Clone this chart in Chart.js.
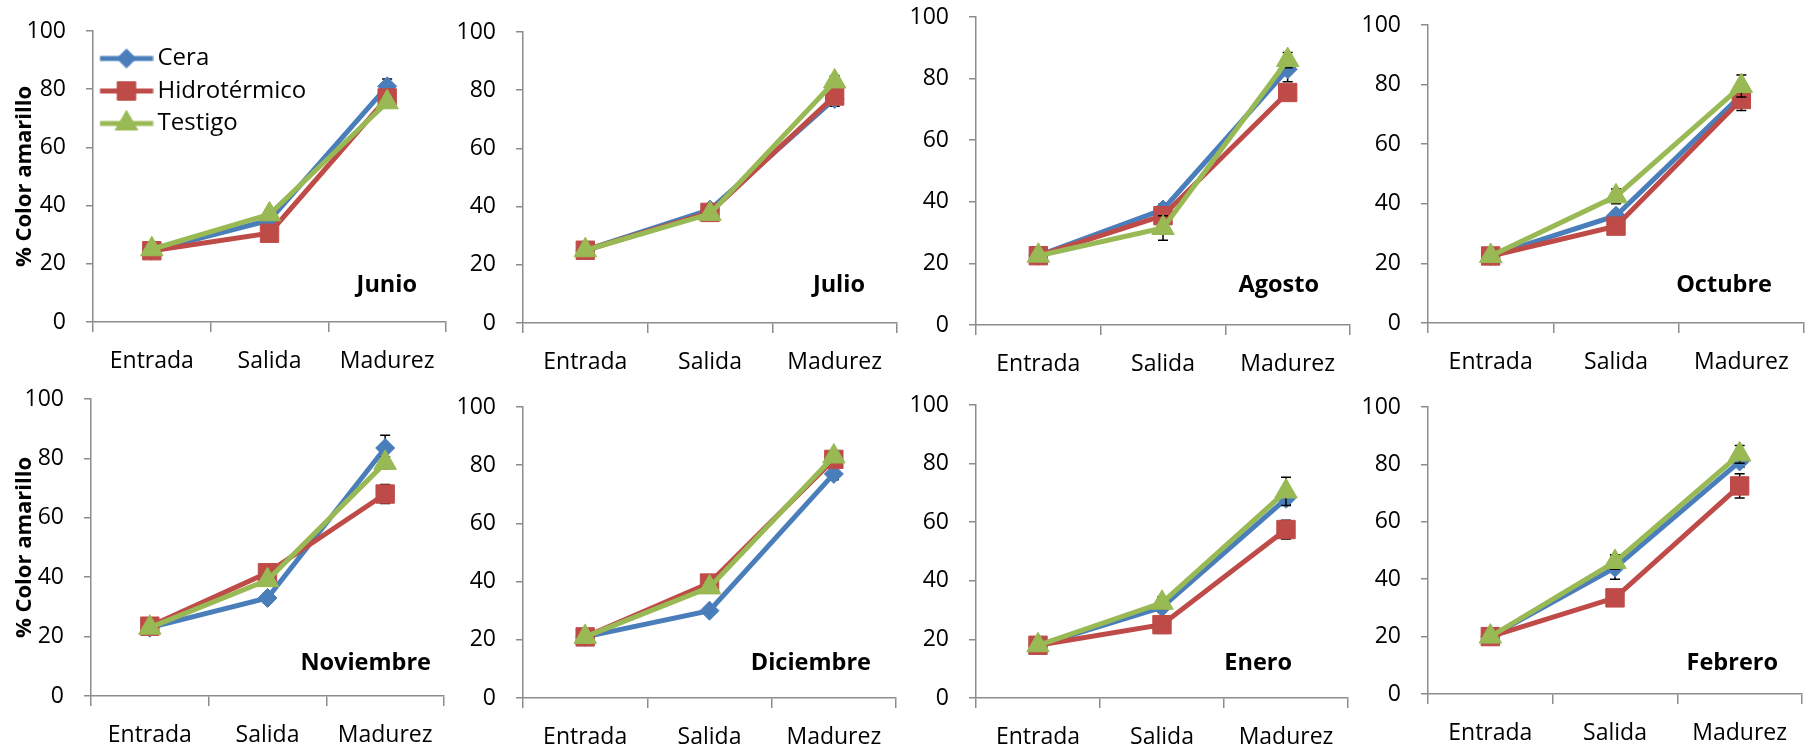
<!DOCTYPE html>
<html>
<head>
<meta charset="utf-8">
<script src="https://cdn.jsdelivr.net/npm/chart.js@4/dist/chart.umd.min.js"></script>
<style>
  html, body { margin:0; padding:0; background:#fff; }
  body { width:1805px; height:749px; position:relative; overflow:hidden; }
  canvas { position:absolute; }
</style>
</head>
<body>
<script>
// ---------- DATA ----------
const categories = ['Entrada', 'Salida', 'Madurez'];
const months = ['Junio', 'Julio', 'Agosto', 'Octubre', 'Noviembre', 'Diciembre', 'Enero', 'Febrero'];
const seriesNames = ['Cera', 'Hidrotérmico', 'Testigo'];
const yTicks = [0, 20, 40, 60, 80, 100];

const cera = [
  [24.5, 35, 81], [25, 39, 77], [22.5, 37.5, 83], [22.5, 36, 76.5],
  [23, 33, 83.5], [21, 30, 77], [18, 31, 68], [20, 44, 81]
];
const hidrotermico = [
  [24.5, 30.5, 77], [25, 38, 78], [22.5, 35.5, 75.5], [22.5, 32.5, 75],
  [23.5, 41.5, 68], [21, 39.5, 82], [18, 25, 57.5], [20, 33.5, 72.5]
];
const testigo = [
  [25, 37, 75.5], [25, 37.5, 83], [22.5, 31.5, 86], [22.5, 42.5, 79.5],
  [23, 39, 78.5], [21, 38, 83], [18, 32.5, 70.5], [20, 46, 83.5]
];
const ceraErr = [
  [0, 2, 2.5], [0, 1, 2.5], [0, 1.7, 4], [0, 1.5, 2],
  [0, 1.5, 4.3], [0, 1, 2], [0, 1.5, 2], [0, 4, 2]
];
const hidrotermicoErr = [
  [0, 1, 2], [0, 1, 2], [0, 1, 1.5], [0, 1.5, 3.7],
  [0, 1.5, 3.2], [0, 1, 1.5], [0, 1, 3.2], [0, 1, 4.2]
];
const testigoErr = [
  [0, 1.5, 1.5], [0, 1, 2], [0, 4, 2.5], [0, 2.5, 3.7],
  [0, 1.5, 2], [0, 1, 1.5], [0, 2, 4.8], [0, 2.5, 3.1]
];

// ---------- LAYOUT (positions / sizes only) ----------
const panels = [
  {left:0,    top:0,   w:450, h:375, yw:93, topPad:31, rightPad:4, xh:53, lblR:29, lblB:30},
  {left:440,  top:0,   w:460, h:375, yw:83, topPad:32, rightPad:3, xh:52, lblR:32, lblB:31},
  {left:900,  top:0,   w:455, h:375, yw:76, topPad:17, rightPad:5, xh:50, lblR:31, lblB:33},
  {left:1345, top:0,   w:460, h:375, yw:83, topPad:25, rightPad:1, xh:52, lblR:32, lblB:31},
  {left:0,    top:375, w:450, h:374, yw:91, topPad:24, rightPad:6, xh:53, lblR:13, lblB:26},
  {left:440,  top:375, w:460, h:374, yw:83, topPad:32, rightPad:4, xh:51, lblR:25, lblB:28},
  {left:900,  top:375, w:455, h:374, yw:76, topPad:30, rightPad:7, xh:51, lblR:56, lblB:28},
  {left:1345, top:375, w:460, h:374, yw:83, topPad:32, rightPad:3, xh:55, lblR:24, lblB:24}
];

const FONT = "'Open Sans', 'DejaVu Sans', sans-serif";
const AXIS = '#8c8c8c';
const styles = [
  {color:'#4A7EBB', pointStyle:'rectRot',  radius:9.5},
  {color:'#BE4B48', pointStyle:'rect',     radius:13},
  {color:'#98B954', pointStyle:'triangle', radius:13}
];

Chart.defaults.font.family = FONT;
Chart.defaults.color = '#000';

function legendImage(st) {
  const c = document.createElement('canvas');
  c.width = 60; c.height = 28;
  const ctx = c.getContext('2d');
  ctx.strokeStyle = st.color; ctx.lineWidth = 5;
  ctx.beginPath(); ctx.moveTo(6.5, 14); ctx.lineTo(59.5, 14); ctx.stroke();
  ctx.fillStyle = st.color; ctx.strokeStyle = st.color; ctx.lineWidth = 1;
  Chart.helpers.drawPoint(ctx, {pointStyle: st.pointStyle, radius: st.radius, borderWidth: 1}, 33, 14);
  return c;
}
const legendImgs = styles.map(legendImage);

const errorBarsPlugin = {
  id: 'errorBars',
  beforeDatasetDraw(chart, args) {
    const ds = chart.data.datasets[args.index];
    if (!ds.err) return;
    const ctx = chart.ctx, y = chart.scales.y;
    ctx.save();
    ctx.strokeStyle = '#000'; ctx.lineWidth = 1.5;
    args.meta.data.forEach((pt, j) => {
      const e = ds.err[j];
      if (!e) return;
      const v = ds.data[j];
      const yt = y.getPixelForValue(v + e), yb = y.getPixelForValue(v - e);
      ctx.beginPath();
      ctx.moveTo(pt.x, yt); ctx.lineTo(pt.x, yb);
      ctx.moveTo(pt.x - 5, yt); ctx.lineTo(pt.x + 5, yt);
      ctx.moveTo(pt.x - 5, yb); ctx.lineTo(pt.x + 5, yb);
      ctx.stroke();
    });
    ctx.restore();
  }
};

const monthLabelPlugin = {
  id: 'monthLabel',
  afterDatasetsDraw(chart, args, opts) {
    const ctx = chart.ctx, a = chart.chartArea;
    ctx.save();
    ctx.font = "bold 23.5px " + FONT;
    ctx.fillStyle = '#000';
    ctx.textAlign = 'right';
    ctx.textBaseline = 'alphabetic';
    ctx.fillText(opts.text, a.right - opts.dr, a.bottom - opts.db);
    ctx.restore();
  }
};

const allSeries = [cera, hidrotermico, testigo];
const allErr = [ceraErr, hidrotermicoErr, testigoErr];

panels.forEach((g, i) => {
  const cv = document.createElement('canvas');
  cv.width = g.w; cv.height = g.h;
  cv.style.left = g.left + 'px'; cv.style.top = g.top + 'px';
  cv.style.width = g.w + 'px'; cv.style.height = g.h + 'px';
  document.body.appendChild(cv);

  const datasets = seriesNames.map((name, s) => ({
    label: name,
    data: allSeries[s][i],
    err: allErr[s][i],
    borderColor: styles[s].color,
    backgroundColor: styles[s].color,
    borderWidth: 5,
    tension: 0,
    pointStyle: styles[s].pointStyle,
    pointRadius: styles[s].radius,
    pointHoverRadius: styles[s].radius,
    pointBackgroundColor: styles[s].color,
    pointBorderColor: styles[s].color,
    pointBorderWidth: 1,
    order: 2 - s,
    clip: false
  }));

  const showTitle = (i % 4 === 0);
  new Chart(cv, {
    type: 'line',
    data: { labels: categories, datasets },
    options: {
      responsive: false,
      animation: false,
      devicePixelRatio: 1,
      events: [],
      layout: { autoPadding: false, padding: { top: g.topPad, right: g.rightPad, left: 0, bottom: 0 } },
      scales: {
        x: {
          type: 'category',
          offset: true,
          grid: { display: true, offset: true, drawOnChartArea: false, drawTicks: true, tickLength: 10, color: AXIS, lineWidth: 1.5 },
          border: { display: true, color: AXIS, width: 1.5 },
          ticks: { font: { size: 23 }, color: '#000', padding: 16, maxRotation: 0, autoSkip: false },
          afterFit: s => { s.height = g.xh; s.paddingLeft = 0; s.paddingRight = 0; }
        },
        y: {
          min: 0, max: 100,
          afterBuildTicks: s => { s.ticks = yTicks.map(v => ({ value: v })); },
          ticks: { font: { size: 23 }, color: '#000', padding: 20 },
          grid: { display: true, drawOnChartArea: false, drawTicks: true, tickLength: 7, color: AXIS, lineWidth: 1.5 },
          border: { display: true, color: AXIS, width: 1.5 },
          title: { display: showTitle, text: '% Color amarillo', color: '#000', font: { size: 22, weight: 'bold' }, padding: { top: 12, bottom: 0 } },
          afterFit: s => { s.width = g.yw; s.paddingTop = 0; s.paddingBottom = 0; }
        }
      },
      plugins: {
        tooltip: { enabled: false },
        legend: {
          display: i === 0,
          position: 'chartArea',
          align: 'start',
          title: { display: true, text: '', padding: { top: 33, bottom: 0 }, font: { size: 4, lineHeight: 1.25 } },
          labels: {
            usePointStyle: true,
            pointStyleWidth: 44,
            padding: 8.5,
            color: '#000',
            font: { size: 24 },
            sort: (a, b) => a.datasetIndex - b.datasetIndex,
            generateLabels: chart => {
              const items = Chart.defaults.plugins.legend.labels.generateLabels(chart);
              items.forEach(it => { it.pointStyle = legendImgs[it.datasetIndex]; it.lineWidth = 0; });
              return items;
            }
          }
        },
        monthLabel: { text: months[i], dr: g.lblR, db: g.lblB }
      }
    },
    plugins: [errorBarsPlugin, monthLabelPlugin]
  });
});
</script>
</body>
</html>
